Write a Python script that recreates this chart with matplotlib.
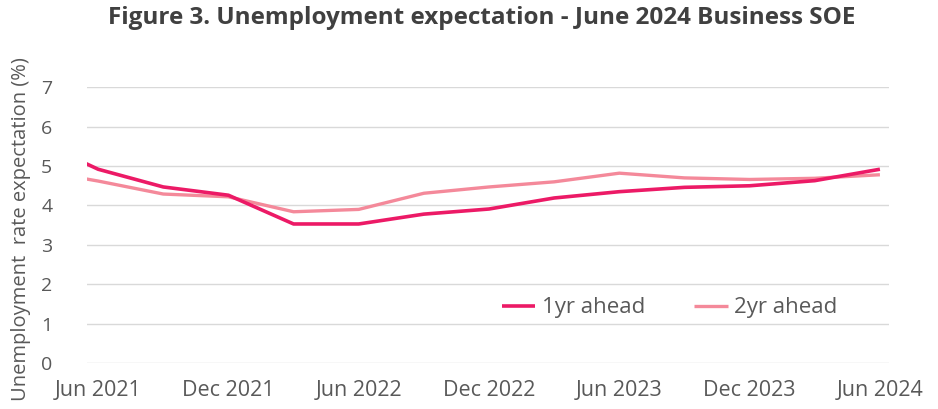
import matplotlib.pyplot as plt

plt.rcParams['font.family'] = ['Open Sans', 'DejaVu Sans']

# quarterly survey, Mar 2021 point only partly visible at the left edge
quarters = ['Mar 2021', 'Jun 2021', 'Sep 2021', 'Dec 2021', 'Mar 2022', 'Jun 2022', 'Sep 2022',
            'Dec 2022', 'Mar 2023', 'Jun 2023', 'Sep 2023', 'Dec 2023', 'Mar 2024', 'Jun 2024']
one_yr = [5.69, 4.92, 4.47, 4.26, 3.53, 3.53, 3.78, 3.91, 4.19, 4.35, 4.46, 4.50, 4.63, 4.92]
two_yr = [4.91, 4.62, 4.29, 4.22, 3.84, 3.90, 4.31, 4.47, 4.60, 4.82, 4.70, 4.66, 4.69, 4.78]
tick_labels = ['Jun 2021', 'Dec 2021', 'Jun 2022', 'Dec 2022', 'Jun 2023', 'Dec 2023', 'Jun 2024']

text_col = '#595959'
x = list(range(-1, len(quarters) - 1))

fig = plt.figure(figsize=(9.38, 4.09), dpi=100)
ax = fig.add_axes([0.0928, 0.1125, 0.855, 0.674])

ax.plot(x, one_yr, color='#EC1A66', lw=2.6, label='1yr ahead', solid_capstyle='butt', zorder=3)
ax.plot(x, two_yr, color='#F4899A', lw=2.4, label='2yr ahead', solid_capstyle='butt', zorder=2)

ax.set_xlim(-0.17, 12.14)
ax.set_ylim(0, 7)
ax.set_yticks(range(0, 8))
ax.set_xticks(range(0, 13, 2))
ax.set_xticklabels(tick_labels)
ax.grid(axis='y', color='#d9d9d9', lw=1)
ax.set_axisbelow(True)
for s in ax.spines.values():
    s.set_visible(False)
ax.tick_params(axis='both', length=0, labelcolor=text_col)
ax.tick_params(axis='y', pad=25, labelsize=14)
ax.tick_params(axis='x', pad=12, labelsize=15.5)

fig.text(0.022, 0.44, 'Unemployment  rate expectation (%)', rotation=90, fontsize=14.5,
         color=text_col, ha='center', va='center')
fig.suptitle('Figure 3. Unemployment expectation - June 2024 Business SOE', x=0.513, y=0.985,
             fontsize=17.5, fontweight='bold', color='#404040')

ax.legend(loc='center', bbox_to_anchor=(0.714, 0.247), bbox_transform=fig.transFigure,
          ncol=2, frameon=False, fontsize=16, labelcolor=text_col, handlelength=1.5,
          handletextpad=0.3, columnspacing=2.2)

fig.savefig('out.png', dpi=100)
